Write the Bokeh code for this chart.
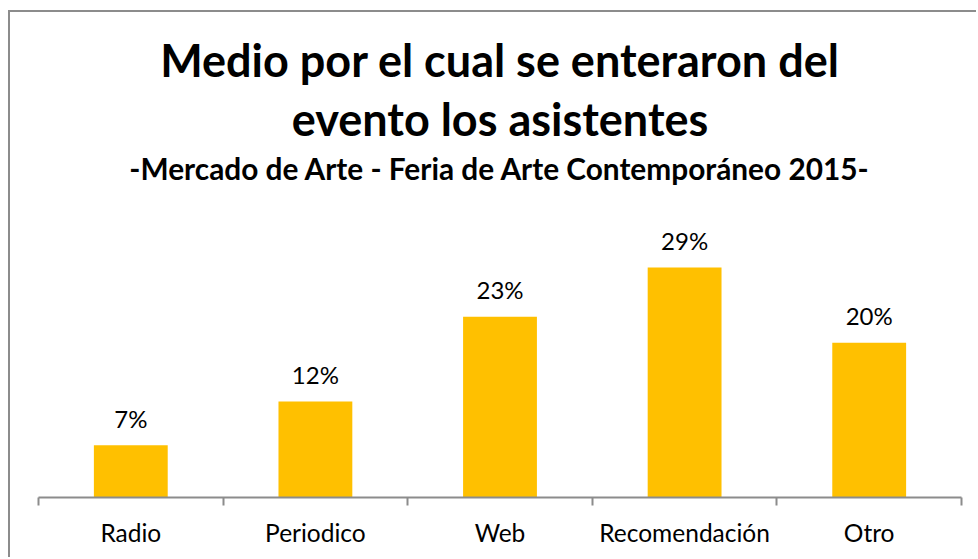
from bokeh.plotting import figure
from bokeh.models import ColumnDataSource, FixedTicker, Range1d
from bokeh.core.properties import value
from bokeh.embed import file_html
from bokeh.resources import INLINE

# ---- data ----
categories = ["Radio", "Periodico", "Web", "Recomendación", "Otro"]
shares = [6.6, 12.1, 22.8, 29.0, 19.5]          # bar heights (%)
share_labels = ["7%", "12%", "23%", "29%", "20%"]
title_line1 = "Medio por el cual se enteraron del"
title_line2 = "evento los asistentes"
subtitle = "-Mercado de Arte - Feria de Arte Contemporáneo 2015-"

FONT = "Lato"
BAR = "#FFC000"
GRAY = "#8c8c8c"

x_pos = [i + 0.5 for i in range(len(categories))]
src = ColumnDataSource(dict(x=x_pos, top=shares, lab=share_labels, cat=categories))

Y_END = 61.16
p = figure(width=968, height=547, output_backend="svg", toolbar_location=None,
           x_range=Range1d(0, len(categories)), y_range=Range1d(0, Y_END),
           y_axis_location=None, min_border_left=28, min_border_right=17,
           min_border_top=0, min_border_bottom=62)
p.styles = {"border-left": f"2px solid {GRAY}", "border-top": f"2px solid {GRAY}",
            "margin-top": "10px", "margin-left": "8px"}
p.outline_line_color = None
p.grid.visible = False
p.background_fill_color = "white"
p.border_fill_color = "white"

p.vbar(x="x", top="top", width=0.4, bottom=0, source=src, color=BAR, line_color=None)

p.text(x="x", y="top", text="lab", source=src, x_offset=0, y_offset=-27,
       text_align="center", text_baseline="alphabetic",
       text_font=value(FONT), text_font_size="24px", text_color="#000000")

# titles (placed inside the frame, above the bars)
cx = len(categories) / 2
p.text(x=[cx], y=[55.2], text=[title_line1], text_align="center", text_baseline="alphabetic",
       text_font=value(FONT), text_font_size="45px", text_font_style="bold", text_color="#000000")
p.text(x=[cx], y=[47.7], text=[title_line2], text_align="center", text_baseline="alphabetic",
       text_font=value(FONT), text_font_size="45px", text_font_style="bold", text_color="#000000")
p.text(x=[cx], y=[41.5], text=[subtitle], text_align="center", text_baseline="alphabetic",
       text_font=value(FONT), text_font_size="29.8px", text_font_style="bold", text_color="#000000")

ax = p.xaxis[0]
ax.ticker = FixedTicker(ticks=x_pos, minor_ticks=list(range(len(categories) + 1)))
ax.major_label_overrides = {xp: c for xp, c in zip(x_pos, categories)}
ax.major_tick_out = 0
ax.major_tick_in = 0
ax.minor_tick_out = 8
ax.minor_tick_in = 0
ax.minor_tick_line_color = GRAY
ax.minor_tick_line_width = 2
ax.axis_line_color = GRAY
ax.axis_line_width = 2
ax.major_label_text_font = FONT
ax.major_label_text_font_size = "24.5px"
ax.major_label_text_color = "#000000"
ax.major_label_standoff = 12

open("out.html", "w").write(file_html(p, INLINE))
